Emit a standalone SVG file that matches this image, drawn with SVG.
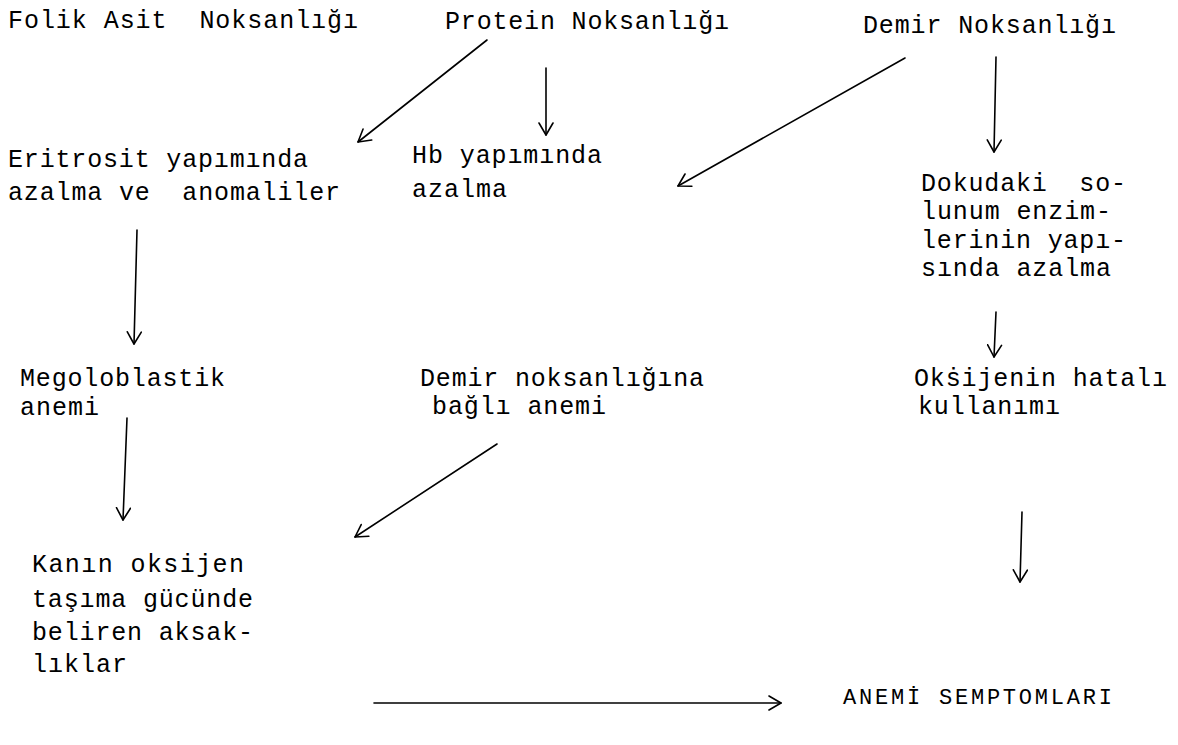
<svg xmlns="http://www.w3.org/2000/svg" width="1178" height="745" viewBox="0 0 1178 745">
<style>
text{font-family:"Liberation Mono","DejaVu Sans Mono",monospace;font-size:25px;fill:#000;}
.caps{font-size:22px;}
.c{fill:none;stroke:#000;stroke-width:1.6;stroke-linecap:round;}
</style>
<defs>
<marker id="ah" viewBox="0 0 14 16" refX="13" refY="8" markerWidth="14" markerHeight="16" markerUnits="userSpaceOnUse" orient="auto">
<path d="M1,1 L13,8 L1,15" fill="none" stroke="#000" stroke-width="1.6" stroke-linecap="round" stroke-linejoin="round"/>
</marker>
</defs>
<rect width="1178" height="745" fill="#fff"/>
<g id="connectors">
<line class="c" x1="487" y1="40" x2="358" y2="142" marker-end="url(#ah)"/>
<line class="c" x1="546" y1="68" x2="546" y2="135" marker-end="url(#ah)"/>
<line class="c" x1="905" y1="58" x2="678" y2="186" marker-end="url(#ah)"/>
<line class="c" x1="996" y1="57" x2="994" y2="152" marker-end="url(#ah)"/>
<line class="c" x1="137" y1="230" x2="134" y2="344" marker-end="url(#ah)"/>
<line class="c" x1="996" y1="312" x2="994" y2="357" marker-end="url(#ah)"/>
<line class="c" x1="127" y1="418" x2="123" y2="520" marker-end="url(#ah)"/>
<line class="c" x1="497" y1="444" x2="355" y2="537" marker-end="url(#ah)"/>
<line class="c" x1="1022" y1="512" x2="1020" y2="582" marker-end="url(#ah)"/>
<line class="c" x1="374" y1="703" x2="781" y2="703" marker-end="url(#ah)"/>
</g>
<g id="folik"><text x="8" y="28" textLength="350" lengthAdjust="spacing" xml:space="preserve">Folik Asit  Noksanlığı</text></g>
<g id="protein"><text x="445" y="29" textLength="284" lengthAdjust="spacing">Protein Noksanlığı</text></g>
<g id="demir"><text x="863" y="33" textLength="253" lengthAdjust="spacing">Demir Noksanlığı</text></g>
<g id="eritrosit"><text x="8" y="167" textLength="300" lengthAdjust="spacing">Eritrosit yapımında</text><text x="8" y="200" textLength="332" lengthAdjust="spacing" xml:space="preserve">azalma ve  anomaliler</text></g>
<g id="hb"><text x="412" y="163" textLength="190" lengthAdjust="spacing">Hb yapımında</text><text x="412" y="197" textLength="95" lengthAdjust="spacing">azalma</text></g>
<g id="dokudaki"><text x="921" y="191" textLength="205" lengthAdjust="spacing" xml:space="preserve">Dokudaki  so-</text><text x="921" y="219" textLength="190" lengthAdjust="spacing">lunum enzim-</text><text x="921" y="248" textLength="205" lengthAdjust="spacing">lerinin yapı-</text><text x="921" y="276" textLength="190" lengthAdjust="spacing">sında azalma</text></g>
<g id="megoloblastik"><text x="20" y="386" textLength="205" lengthAdjust="spacing">Megoloblastik</text><text x="20" y="415" textLength="79" lengthAdjust="spacing">anemi</text></g>
<g id="demir-anemi"><text x="420" y="386" textLength="284" lengthAdjust="spacing">Demir noksanlığına</text><text x="432" y="414" textLength="174" lengthAdjust="spacing">bağlı anemi</text></g>
<g id="oksijen"><text x="914" y="386" textLength="253" lengthAdjust="spacing">Okṡijenin hatalı</text><text x="918" y="414" textLength="142" lengthAdjust="spacing">kullanımı</text></g>
<g id="kanin"><text x="32" y="572" textLength="212" lengthAdjust="spacing">Kanın oksijen</text><text x="32" y="607" textLength="221" lengthAdjust="spacing">taşıma gücünde</text><text x="32" y="640" textLength="221" lengthAdjust="spacing">beliren aksak-</text><text x="32" y="672" textLength="95" lengthAdjust="spacing">lıklar</text></g>
<g id="anemi-semptomlari"><text class="caps" x="843" y="704" textLength="269" lengthAdjust="spacing">ANEMİ SEMPTOMLARI</text></g>
</svg>
